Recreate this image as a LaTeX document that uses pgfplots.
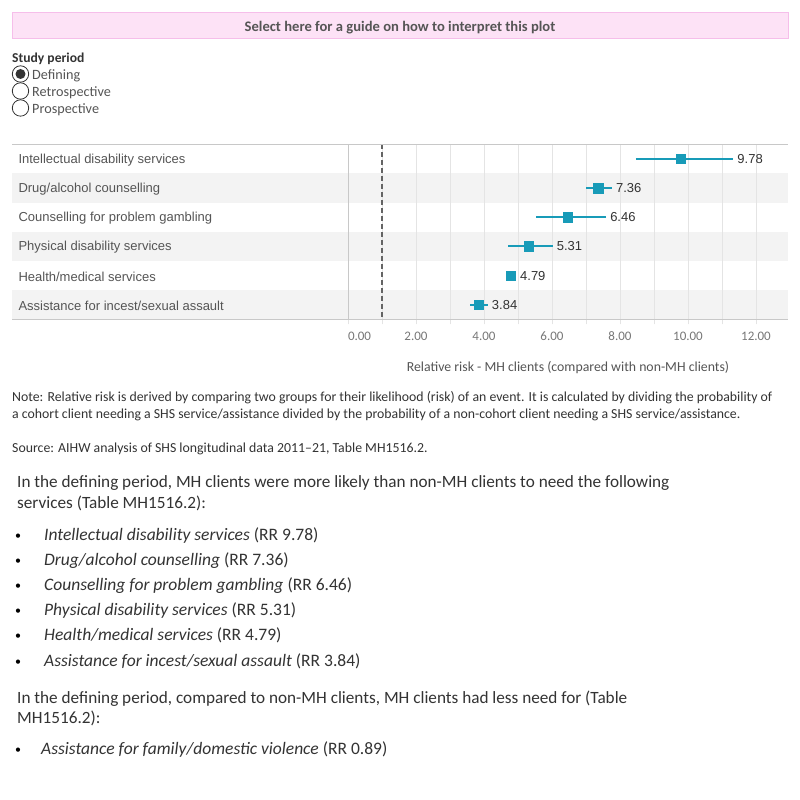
\documentclass[border=0pt]{standalone}
\usepackage{pgfplots}
\usepackage{pgfplotstable}
\pgfplotsset{compat=1.18}
\usepackage{fontspec}
\setmainfont{Carlito}
\newfontfamily\arial{Liberation Sans}
\definecolor{teal1}{RGB}{24,155,184}
\definecolor{band}{RGB}{243,243,243}
\definecolor{gridc}{RGB}{228,228,228}
\definecolor{borderc}{RGB}{200,200,200}
\definecolor{pinkfill}{RGB}{253,226,246}
\definecolor{pinkborder}{RGB}{246,190,234}
\definecolor{dark}{RGB}{51,51,51}
\definecolor{mid}{RGB}{85,85,85}
\definecolor{light}{RGB}{119,119,119}
\definecolor{dashc}{RGB}{100,100,100}

\pgfplotstableread{
row val ep em labx lab
1 9.78 1.55 1.31 11.33 9.78
2 7.36 0.40 0.36 7.76 7.36
3 6.46 1.13 0.93 7.59 6.46
4 5.31 0.71 0.60 6.02 5.31
5 4.79 0.06 0.06 4.94 4.79
6 3.84 0.27 0.25 4.11 3.84
}\rrdata

\begin{document}
\begin{tikzpicture}[x=1pt,y=1pt]
\fill[white] (0,0) rectangle (800,800);
% header
\draw[fill=pinkfill, draw=pinkborder, line width=0.8pt] (12,{800-12.3}) rectangle (788,{800-38.3});
\node[text=mid, font=\fontsize{14.6}{16}\selectfont\bfseries] at (400,{800-27.5}) {Select here for a guide on how to interpret this plot};
% study period
\node[anchor=west, inner sep=0, text=dark, font=\fontsize{13.6}{15}\selectfont\bfseries] at (12,{800-58.5}) {Study period};
\draw[dark, line width=0.8pt] (20.5,{800-74}) circle (8.2);
\fill[dark] (20.5,{800-74}) circle (5);
\draw[dark, line width=0.8pt] (20.5,{800-91}) circle (8.2);
\draw[dark, line width=0.8pt] (20.5,{800-108}) circle (8.2);
\node[anchor=west, inner sep=0, text=mid, font=\fontsize{14.2}{16}\selectfont] at (32,{800-75.5}) {Defining};
\node[anchor=west, inner sep=0, text=mid, font=\fontsize{14.2}{16}\selectfont] at (32,{800-92.5}) {Retrospective};
\node[anchor=west, inner sep=0, text=mid, font=\fontsize{14.2}{16}\selectfont] at (32,{800-109.5}) {Prospective};
% row bands
\fill[band] (12,{800-173.47}) rectangle (788,{800-202.63});
\fill[band] (12,{800-231.8}) rectangle (788,{800-260.97});
\fill[band] (12,{800-290.13}) rectangle (788,{800-319.3});

\begin{axis}[
  at={(348pt,480.7pt)}, anchor=south west,
  scale only axis, width=440pt, height=175pt,
  xmin=0, xmax=12.941, ymin=0.5, ymax=6.5, y dir=reverse,
  axis line style={draw=none},
  clip=false,
  ytick={1,2,3,4,5,6},
  yticklabels={Intellectual disability services, Drug/alcohol counselling, Counselling for problem gambling, Physical disability services, Health/medical services, Assistance for incest/sexual assault},
  yticklabel style={anchor=west, xshift=-333pt, yshift=-1pt, font=\arial\fontsize{13}{15}\selectfont, text=mid},
  ytick style={draw=none},
  xtick={0,2,4,6,8,10,12},
  xticklabels={\makebox[0pt][l]{0.00},2.00,4.00,6.00,8.00,10.00,12.00},
  minor xtick={1,3,5,7,9,11},
  xtick pos=bottom, xtick align=outside,
  major tick length=5pt, minor tick length=5pt,
  xtick style={draw=gridc, line width=0.8pt},
  xmajorgrids, xminorgrids,
  major grid style={draw=gridc, line width=0.8pt},
  minor grid style={draw=gridc, line width=0.8pt},
  xticklabel style={text=light, font=\fontsize{13}{15}\selectfont, yshift=-4pt},
  xlabel={Relative risk - MH clients (compared with non-MH clients)},
  xlabel style={text=mid, font=\fontsize{13.8}{15}\selectfont, yshift=-14pt},
  /pgf/number format/assume math mode=true,
]
\draw[borderc, line width=0.8pt] (axis cs:0,0.5) -- (axis cs:0,6.5);
\draw[dashc, line width=1.5pt, dash pattern=on 5pt off 3pt] (axis cs:1,0.5) -- (axis cs:1,6.5);
\addplot[only marks, mark=square*, mark size=4.8pt, color=teal1, draw=teal1, fill=teal1,
  error bars/.cd, x dir=both, x explicit, error mark=none,
  error bar style={line width=2pt, draw=teal1, color=teal1}]
  table[x=val, y=row, x error plus=ep, x error minus=em] {\rrdata};
\addplot[only marks, mark=none, draw=none, nodes near coords, point meta=explicit symbolic,
  nodes near coords style={anchor=west, inner sep=0pt, xshift=4pt, text=dark, font=\arial\fontsize{13}{15}\selectfont}]
  table[x=labx, y=row, meta=lab] {\rrdata};
\end{axis}
% top & bottom border
\draw[borderc, line width=1pt] (12,{800-144.3}) -- (788,{800-144.3});
\draw[borderc, line width=1pt] (12,{800-319.3}) -- (788,{800-319.3});

% note text
\begin{scope}[every node/.style={anchor=west, inner sep=0, text=dark, font=\fontsize{13.8}{15}\selectfont}]
\node at (12,{800-398}) {Note: Relative risk is derived by comparing two groups for their likelihood (risk) of an event. It is calculated by dividing the probability of};
\node at (12,{800-415}) {a cohort client needing a SHS service/assistance divided by the probability of a non-cohort client needing a SHS service/assistance.};
\node at (12,{800-449}) {Source: AIHW analysis of SHS longitudinal data 2011--21, Table MH1516.2.};
\end{scope}
\begin{scope}[every node/.style={anchor=west, inner sep=0, text=dark, font=\fontsize{17.2}{19}\selectfont}]
\node at (17,{800-483.5}) {In the defining period, MH clients were more likely than non-MH clients to need the following};
\node at (17,{800-503.5}) {services (Table MH1516.2):};
\node at (17,{800-698.5}) {In the defining period, compared to non-MH clients, MH clients had less need for (Table};
\node at (17,{800-718.5}) {MH1516.2):};
\end{scope}
\begin{scope}[every node/.style={anchor=west, inner sep=0, text=dark, font=\fontsize{17.5}{19}\selectfont}]
\node at (44,{800-535.5}) {\textit{Intellectual disability services} (RR 9.78)};
\node at (44,{800-560.5}) {\textit{Drug/alcohol counselling} (RR 7.36)};
\node at (44,{800-585.5}) {\textit{Counselling for problem gambling} (RR 6.46)};
\node at (44,{800-610.5}) {\textit{Physical disability services} (RR 5.31)};
\node at (44,{800-635.5}) {\textit{Health/medical services} (RR 4.79)};
\node at (44,{800-661.5}) {\textit{Assistance for incest/sexual assault} (RR 3.84)};
\node at (41,{800-749.5}) {\textit{Assistance for family/domestic violence} (RR 0.89)};
\end{scope}
\begin{scope}[every node/.style={inner sep=0, text=black, font=\fontsize{12}{14}\selectfont}]
\foreach \yy in {537,562,587,612,637,663,751} {\node at (18,{800-\yy}) {•};}
\end{scope}
\end{tikzpicture}
\end{document}
